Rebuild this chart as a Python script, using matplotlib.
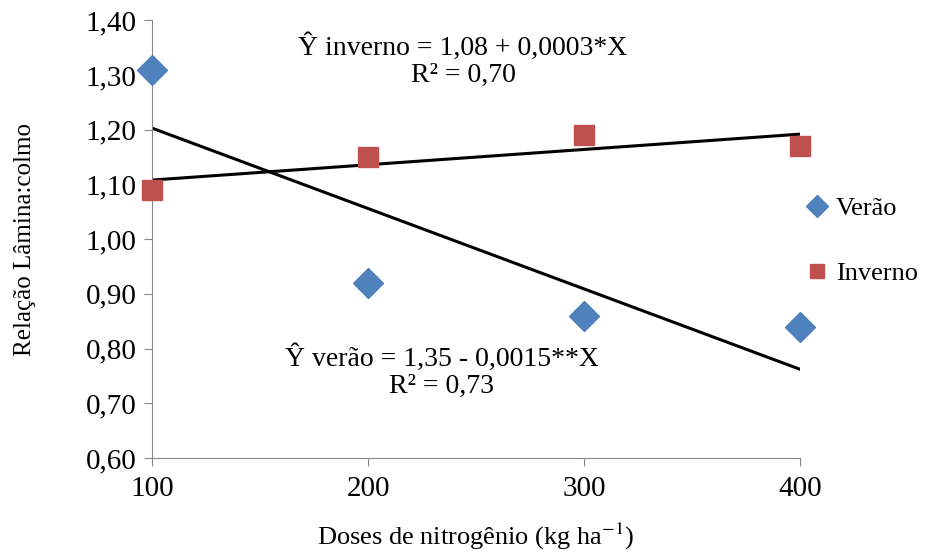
import numpy as np
import matplotlib.pyplot as plt

plt.rcParams['font.family'] = ['Liberation Serif', 'DejaVu Serif']
plt.rcParams['mathtext.fontset'] = 'stix'

doses = [100, 200, 300, 400]
verao = [1.31, 0.92, 0.86, 0.84]
inverno = [1.09, 1.15, 1.19, 1.17]
yticks = [0.60, 0.70, 0.80, 0.90, 1.00, 1.10, 1.20, 1.30, 1.40]

blue = '#4F81BD'
red = '#C0504D'
grey = '#868686'

fig = plt.figure(figsize=(9.27, 5.51), dpi=100)
ax = fig.add_axes([0.164, 0.169, 0.699, 0.794])

x = np.array(doses)
bv = np.polyfit(x, verao, 1)
bi = np.polyfit(x, inverno, 1)
ax.plot(x, np.polyval(bv, x), color='black', lw=2.2, zorder=2)
ax.plot(x, np.polyval(bi, x), color='black', lw=2.2, zorder=2)

ax.plot(doses, verao, 'D', color=blue, ms=15, label='Verão', clip_on=False, zorder=3)
ax.plot(doses, inverno, 's', color=red, ms=14, label='Inverno', clip_on=False, zorder=3)

ax.set_xlim(100, 400)
ax.set_ylim(0.60, 1.40)
ax.set_xticks(doses)
ax.set_yticks(yticks)
ax.set_yticklabels([f'{v:.2f}'.replace('.', ',') for v in yticks])
ax.tick_params(labelsize=21, length=6, color=grey, direction='out')
ax.tick_params(axis='x', pad=7)
ax.tick_params(axis='y', pad=5)

for s in ['top', 'right']:
    ax.spines[s].set_visible(False)
for s in ['left', 'bottom']:
    ax.spines[s].set_color(grey)

ax.text(244, 1.327, 'Ŷ inverno = 1,08 + 0,0003*X\nR² = 0,70', ha='center', va='center',
        fontsize=20, linespacing=1.1)
ax.text(234, 0.758, 'Ŷ verão = 1,35 - 0,0015**X\nR² = 0,73', ha='center', va='center',
        fontsize=20, linespacing=1.1)

ax.set_ylabel('Relação Lâmina:colmo', fontsize=18, labelpad=36)
ax.set_xlabel('Doses de nitrogênio (kg ha$^{-1}$)', fontsize=19, labelpad=14)

leg = ax.legend(loc='center left', bbox_to_anchor=(0.978, 0.496), frameon=False, fontsize=19,
                handlelength=0.6, handletextpad=0.4, labelspacing=1.55, markerscale=0.75)

fig.savefig('out.png', dpi=100)
